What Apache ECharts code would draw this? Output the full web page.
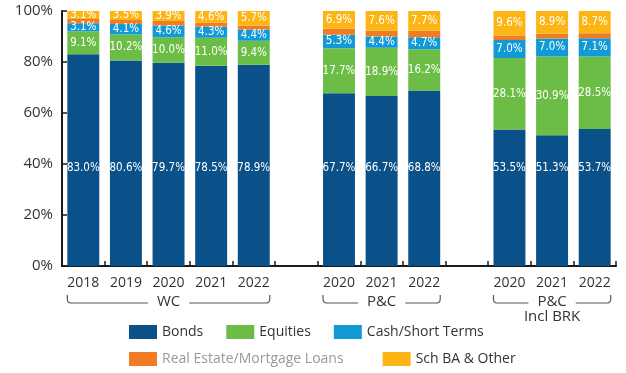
<!DOCTYPE html>
<html>
<head>
<meta charset="utf-8">
<script src="https://cdn.jsdelivr.net/npm/echarts@6/dist/echarts.min.js"></script>
<style>
html,body{margin:0;padding:0;background:#fff;}
#c{width:626px;height:373px;}
</style>
</head>
<body>
<div id="c"></div>
<script>
// ---- data ----
var categories = ['wc18','wc19','wc20','wc21','wc22','gap1','pc20','pc21','pc22','gap2','brk20','brk21','brk22'];
var yearLabels = ['2018','2019','2020','2021','2022','','2020','2021','2022','','2020','2021','2022'];
var bonds    = [83.0, 80.6, 79.7, 78.5, 78.9, null, 67.7, 66.7, 68.8, null, 53.5, 51.3, 53.7];
var equities = [9.1, 10.2, 10.0, 11.0, 9.4, null, 17.7, 18.9, 16.2, null, 28.1, 30.9, 28.5];
var cash     = [3.1, 4.1, 4.6, 4.3, 4.4, null, 5.3, 4.4, 4.7, null, 7.0, 7.0, 7.1];
var realEst  = [1.7, 1.6, 1.8, 1.6, 1.6, null, 2.4, 2.4, 2.6, null, 1.8, 1.9, 2.0];
var schBA    = [3.1, 3.5, 3.9, 4.6, 5.7, null, 6.9, 7.6, 7.7, null, 9.6, 8.9, 8.7];
var yTicks = [0, 20, 40, 60, 80, 100];
var groups = [
  {lines:['WC'], from:0, to:4},
  {lines:['P&C'], from:6, to:8},
  {lines:['P&C','Incl BRK'], from:10, to:12}
];
var seriesNames = ['Bonds','Equities','Cash/Short Terms','Real Estate/Mortgage Loans','Sch BA & Other'];

// ---- style ----
var colors = ['#0b5189','#6cbd45','#129ad6','#f07d23','#fdb515'];
var sans = "'Open Sans', 'Noto Sans', sans-serif";
var narrow = "'Liberation Sans Narrow', 'DejaVu Sans Condensed', sans-serif";

var chart = echarts.init(document.getElementById('c'), null, {renderer:'canvas'});

function lbl(extra){
  var o = {show:true, color:'#fff', fontFamily:narrow, fontSize:11.5,
    formatter:function(p){ return p.value==null ? '' : p.value.toFixed(1)+'%'; }};
  for (var k in extra) o[k]=extra[k];
  return o;
}

var dataArr = [bonds, equities, cash, realEst, schBA];
var series = dataArr.map(function(d,i){
  var s = {name:seriesNames[i], type:'bar', stack:'t', data:d, barCategoryGap:'25%',
    itemStyle:{color:colors[i]}, emphasis:{disabled:true}, animation:false};
  if (i===0) s.label = lbl({position:'insideBottom', distance:92});
  else if (i===3) s.label = {show:false};
  else s.label = lbl({position:'inside'});
  return s;
});

var legendText = {fontFamily:sans, fontSize:14, color:'#333'};
chart.setOption({
  animation:false,
  grid:{left:62, right:10, top:11, bottom:107},
  legend:[
    {left:124, top:320, itemWidth:28, itemHeight:14, itemGap:23, icon:'rect',
     data:['Bonds','Equities','Cash/Short Terms'], textStyle:legendText, selectedMode:false},
    {left:124, top:347, itemWidth:28, itemHeight:14, itemGap:39, icon:'rect',
     data:[{name:'Real Estate/Mortgage Loans', textStyle:{color:'#999'}}, 'Sch BA & Other'],
     textStyle:legendText, selectedMode:false}
  ],
  xAxis:{type:'category', data:categories,
    axisLine:{lineStyle:{color:'#1a1a1a', width:2}},
    axisTick:{show:true, inside:true, length:5, alignWithLabel:false, lineStyle:{color:'#1a1a1a', width:1.5}},
    axisLabel:{margin:10, fontFamily:sans, fontSize:14, color:'#333',
      formatter:function(v, idx){ return yearLabels[idx]; }}
  },
  yAxis:{type:'value', min:0, max:100, interval:20,
    axisLine:{show:true, lineStyle:{color:'#1a1a1a', width:2}},
    axisTick:{show:true, inside:true, length:5, lineStyle:{color:'#1a1a1a', width:1.5}},
    splitLine:{show:false},
    axisLabel:{margin:9, fontFamily:sans, fontSize:15, color:'#333',
      formatter:function(v){ return v+'%'; }}
  },
  series:series
});

// ---- group braces ----
var ctx = document.createElement('canvas').getContext('2d');
ctx.font = '15px ' + sans;
var yBase = chart.convertToPixel({yAxisIndex:0}, 0);
var c0 = chart.convertToPixel({xAxisIndex:0}, 0), c1 = chart.convertToPixel({xAxisIndex:0}, 1);
var band = c1 - c0, half = band*0.75/2;
function corner(px, py, cx, cy, qx, qy){
  var pts = [];
  for (var t=0; t<=1.0001; t+=0.2){
    var a=(1-t)*(1-t), b=2*(1-t)*t, c=t*t;
    pts.push([a*px+b*cx+c*qx, a*py+b*cy+c*qy]);
  }
  return pts;
}
var gfx = [];
groups.forEach(function(g){
  var x0 = chart.convertToPixel({xAxisIndex:0}, g.from) - half;
  var x1 = chart.convertToPixel({xAxisIndex:0}, g.to) + half;
  var xm = (x0+x1)/2;
  var tw = ctx.measureText(g.lines[0]).width;
  var ga = xm - tw/2 - 9, gb = xm + tw/2 + 9;
  var yt = yBase + 29, yb = yBase + 37, r = 4;
  var left = [[x0, yt]].concat(corner(x0, yb-r, x0, yb, x0+r, yb)).concat([[ga, yb]]);
  var right = [[gb, yb]].concat(corner(x1-r, yb, x1, yb, x1, yb-r)).concat([[x1, yt]]);
  [left, right].forEach(function(p){
    gfx.push({type:'polyline', shape:{points:p}, style:{fill:null, stroke:'#555', lineWidth:1.2}, silent:true});
  });
  g.lines.forEach(function(t, li){
    gfx.push({type:'text', x:xm, y:yBase+36+li*15, silent:true,
      style:{text:t, fill:'#333', font:'15px '+sans, align:'center', verticalAlign:'middle'}});
  });
});
chart.setOption({graphic:gfx});
</script>
</body>
</html>
